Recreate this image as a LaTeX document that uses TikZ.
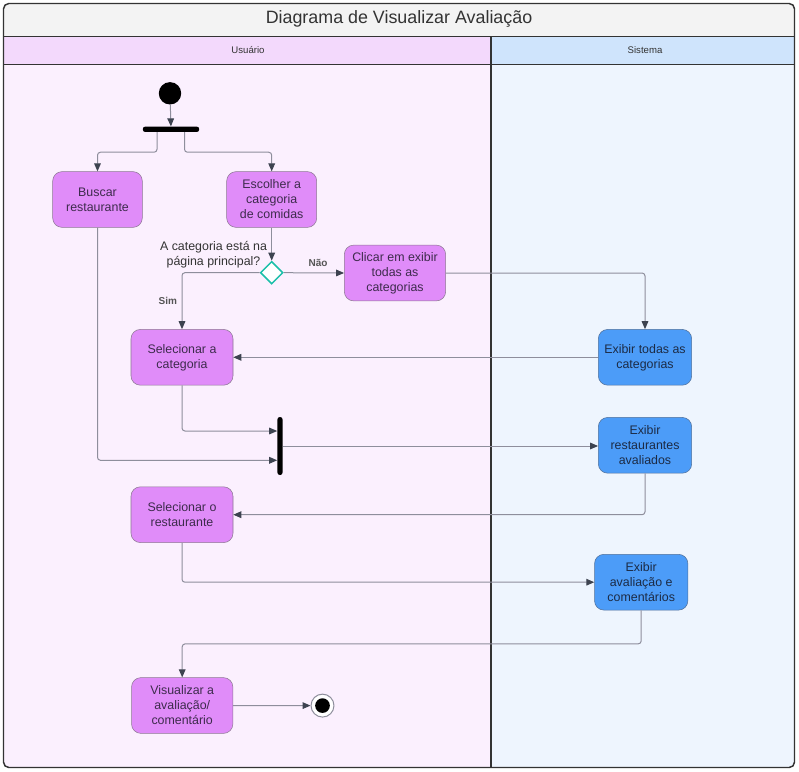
\documentclass[tikz,border=0pt]{standalone}
\usepackage{fontspec}
\setmainfont{Liberation Sans}
\usepackage{xcolor}
\usetikzlibrary{arrows.meta,shapes.geometric,calc}

\definecolor{titlegray}{HTML}{F3F3F3}
\definecolor{userhead}{HTML}{F3D9FC}
\definecolor{userlane}{HTML}{FBF0FE}
\definecolor{syshead}{HTML}{CFE4FC}
\definecolor{syslane}{HTML}{EEF5FE}
\definecolor{framedark}{HTML}{333333}
\definecolor{actpurple}{HTML}{E08CF9}
\definecolor{actborder}{HTML}{8D7893}
\definecolor{purpletext}{HTML}{3D2B4C}
\definecolor{sysblue}{HTML}{4C9CF8}
\definecolor{sysborder}{HTML}{51709A}
\definecolor{bluetext}{HTML}{1C2B45}
\definecolor{linegray}{HTML}{8E8E9C}
\definecolor{tipgray}{HTML}{3D4350}
\definecolor{labelgray}{HTML}{555555}
\definecolor{decteal}{HTML}{1BBFA9}

\begin{document}
\begin{tikzpicture}[x=0.75pt,y=0.75pt,yscale=-1,xscale=1,
  actnode/.style={draw=actborder, fill=actpurple, rounded corners=7pt, align=center, inner sep=0pt,
    minimum height=41.8pt, font=\fontsize{9.3}{11.25}\selectfont, text=purpletext},
  sysnode/.style={actnode, draw=sysborder, fill=sysblue, text=bluetext},
  syncbar/.style={fill=black, rounded corners=1.8pt, inner sep=0pt},
  flow/.style={draw=linegray, line width=0.75pt, rounded corners=2.2pt,
    -{Triangle[length=6pt,width=5pt,color=tipgray]}},
  guard/.style={font=\fontsize{7.5}{9}\selectfont\bfseries, text=labelgray}]
\useasboundingbox (0,0) rectangle (799,771);
\fill[white] (0,0) rectangle (799,771);

%Shape: Swimlanes
\begin{scope}
\clip[rounded corners=4pt] (3.5,3.5) rectangle (794.5,767.5);
\fill[titlegray] (3.5,3.5) rectangle (794.5,36.5);
\fill[userhead] (3.5,36.5) rectangle (491,64.5);
\fill[syshead] (491,36.5) rectangle (794.5,64.5);
\fill[userlane] (3.5,64.5) rectangle (491,767.5);
\fill[syslane] (491,64.5) rectangle (794.5,767.5);
\end{scope}
\draw[framedark, line width=1.1pt, rounded corners=4pt] (3.5,3.5) rectangle (794.5,767.5);
\draw[framedark, line width=1.1pt] (3.5,36.5) -- (794.5,36.5) ;
\draw[framedark, line width=1.1pt] (3.5,64.5) -- (794.5,64.5) ;
\draw[framedark, line width=1.1pt] (491,36.5) -- (491,767.5) ;

% Text Node
\node (title) at (399,18.5) [font=\fontsize{13.4}{16}\selectfont, text=framedark] {Diagrama de Visualizar Avaliação};
% Text Node
\node (usuario) at (248,50.5) [font=\fontsize{7.2}{9}\selectfont, text=framedark] {Usuário};
% Text Node
\node (sistema) at (645,50.5) [font=\fontsize{7.2}{9}\selectfont, text=framedark] {Sistema};

%Shape: Circle
\node (start) at (170,93.3) [circle, fill=black, inner sep=0pt, minimum size=16.8pt] {};
%Shape: Fork
\node (fork) at (171,129.3) [syncbar, minimum width=42.3pt, minimum height=4pt] {};

% Activity Nodes
\node (buscar) at (97.5,199.5) [actnode, minimum width=67.2pt] {Buscar\\restaurante};
\node (escolher) at (271.7,199.5) [actnode, minimum width=67.5pt] {Escolher a\\categoria\\de comidas};
\node (clicar) at (395,273) [actnode, minimum width=76pt] {Clicar em exibir\\todas as\\categorias};
\node (selcat) at (182,357.3) [actnode, minimum width=76.5pt] {Selecionar a\\categoria};
\node (exibtodas) at (645,357.3) [sysnode, minimum width=70pt] {Exibir todas as\\categorias};
\node (exibrest) at (645,445.3) [sysnode, minimum width=70pt] {Exibir\\restaurantes\\avaliados};
\node (selrest) at (182,514.7) [actnode, minimum width=76.5pt] {Selecionar o\\restaurante};
\node (exibaval) at (641.2,582.2) [sysnode, minimum width=70pt] {Exibir\\avaliação e\\comentários};
\node (visual) at (182.2,705.5) [actnode, minimum width=76pt] {Visualizar a\\avaliação/\\comentário};

%Shape: Diamond
\node (dec) at (271.7,272.7) [diamond, draw=decteal, fill=white, line width=1.1pt, inner sep=0pt, minimum size=17pt] {};
% Text Node
\node (declabel) at (213.5,254.5) [align=center, font=\fontsize{9.3}{11.25}\selectfont, text=framedark] {A categoria está na\\página principal?};

%Shape: Join
\node (join) at (280,446) [syncbar, minimum width=3.8pt, minimum height=43.5pt] {};

%Shape: Final
\node (final) at (322.5,705.6) [circle, draw=linegray, fill=white, line width=0.75pt, inner sep=0pt, minimum size=17.2pt] {};
\node (finaldot) at (322.5,705.6) [circle, fill=black, inner sep=0pt, minimum size=11pt] {};

% Connectors
\draw[flow] (start) -- (fork);
\draw[flow] ($(fork.south)+(-14,0)$) -- ++(0,20) -| (buscar.north);
\draw[flow] ($(fork.south)+(13.5,0)$) -- ++(0,20) -| (escolher.north);
\draw[flow] (escolher.south) -- (dec.north);
\draw[flow] (dec.east) -- node[guard, pos=0.57, above=1pt] (nao) {Não} (clicar.west);
\draw[flow] (dec.west) -| node[guard, pos=0.75, left=0pt] (sim) {Sim} (selcat.north);
\draw[flow] (clicar.east) -| (exibtodas.north);
\draw[flow] (exibtodas.west) -- (selcat.east);
\draw[flow] (selcat.south) |- ($(join.west)+(0,-15)$);
\draw[flow] (buscar.south) |- ($(join.west)+(0,14.3)$);
\draw[flow] (join.east) -- (exibrest.west |- join.east);
\draw[flow] (exibrest.south) |- (selrest.east);
\draw[flow] (selrest.south) |- (exibaval.west);
\draw[flow] (exibaval.south) -- ++(0,33.5) -| (visual.north);
\draw[flow] (visual.east) -- (final.west);

\end{tikzpicture}
\end{document}
